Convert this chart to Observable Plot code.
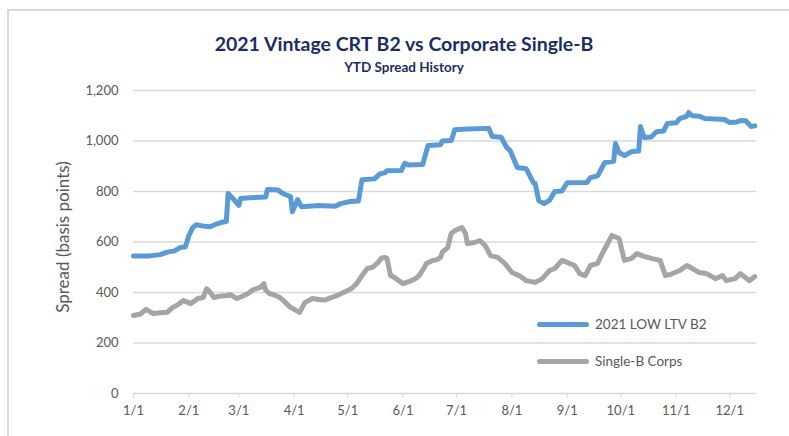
<!DOCTYPE html>
<html>
<head>
<meta charset="utf-8">
<script src="https://cdn.jsdelivr.net/npm/d3@7"></script>
<script src="https://cdn.jsdelivr.net/npm/@observablehq/plot@0.6"></script>
<style>
  body { margin: 0; background: #fff; font-family: Lato, "Open Sans", sans-serif; }
  #wrap { position: relative; width: 789px; height: 436px; overflow: hidden; }
  #frame { position: absolute; left: 7px; top: 9px; width: 820px; height: 460px; border: 2px solid #d9d9d9; box-sizing: border-box; }
  #chart { position: absolute; left: 0; top: 0; }
  #title { position: absolute; left: 0; width: 808px; top: 32px; text-align: center; font-weight: bold; font-size: 19.5px; color: #1B2E63; line-height: 24px; }
  #subtitle { position: absolute; left: 0; width: 808px; top: 59px; text-align: center; font-weight: bold; font-size: 13.5px; color: #1B2E63; line-height: 16px; }
  #ylabel { position: absolute; left: 62px; top: 237px; transform: translate(-50%, -50%) rotate(-90deg); white-space: nowrap; font-size: 17px; color: #595959; }
  .leg { position: absolute; left: 537px; height: 18px; display: flex; align-items: center; font-size: 13.5px; color: #595959; white-space: nowrap; }
  .leg span.bar { display: inline-block; width: 52px; height: 5px; border-radius: 3px; margin-right: 6px; }
</style>
</head>
<body>
<div id="wrap">
  <div id="frame"></div>
  <div id="chart"></div>
  <div id="title"></div>
  <div id="subtitle"></div>
  <div id="ylabel"></div>
  <div id="legend"></div>
</div>
<script>
// ---- Data ----
const titleText = "2021 Vintage CRT B2 vs Corporate Single-B";
const subtitleText = "YTD Spread History";
const yAxisLabel = "Spread (basis points)";
const seriesNames = ["2021 LOW LTV B2", "Single-B Corps"];
const yTicks = [0, 200, 400, 600, 800, 1000, 1200];
const xTickLabels = ["1/1","2/1","3/1","4/1","5/1","6/1","7/1","8/1","9/1","10/1","11/1","12/1"];
const xDomain = ["2021-01-01", "2021-12-16"];

const b2Dates = ["2021-01-01","2021-01-10","2021-01-16","2021-01-20","2021-01-24","2021-01-27","2021-01-30","2021-02-01","2021-02-03","2021-02-05","2021-02-10","2021-02-13","2021-02-16","2021-02-19","2021-02-21","2021-02-22","2021-02-23","2021-02-26","2021-03-01","2021-03-02","2021-03-07","2021-03-16","2021-03-17","2021-03-23","2021-03-25","2021-03-27","2021-03-30","2021-03-31","2021-04-03","2021-04-05","2021-04-15","2021-04-24","2021-04-27","2021-05-02","2021-05-07","2021-05-09","2021-05-16","2021-05-19","2021-05-22","2021-05-23","2021-05-31","2021-06-02","2021-06-04","2021-06-12","2021-06-15","2021-06-22","2021-06-23","2021-06-28","2021-06-30","2021-07-07","2021-07-19","2021-07-21","2021-07-26","2021-07-29","2021-07-31","2021-08-04","2021-08-09","2021-08-13","2021-08-14","2021-08-16","2021-08-19","2021-08-22","2021-08-25","2021-08-29","2021-09-01","2021-09-12","2021-09-14","2021-09-18","2021-09-19","2021-09-22","2021-09-27","2021-09-28","2021-09-30","2021-10-03","2021-10-07","2021-10-11","2021-10-12","2021-10-14","2021-10-18","2021-10-21","2021-10-25","2021-10-27","2021-11-01","2021-11-03","2021-11-07","2021-11-08","2021-11-10","2021-11-14","2021-11-17","2021-11-28","2021-12-01","2021-12-05","2021-12-07","2021-12-10","2021-12-13","2021-12-15"];
const b2Values = [545,545,550,560,565,578,580,625,655,668,662,660,670,677,680,682,792,770,745,772,775,778,808,806,795,788,780,720,768,740,745,742,752,760,762,847,850,870,875,882,883,912,905,907,982,985,1000,1002,1045,1048,1050,1018,1015,975,962,895,890,835,832,764,752,765,800,802,835,836,855,862,875,915,920,990,955,942,958,960,1057,1014,1016,1037,1040,1069,1072,1089,1098,1113,1100,1098,1089,1085,1073,1075,1081,1080,1057,1060];

const corpDates = ["2021-01-01","2021-01-05","2021-01-08","2021-01-10","2021-01-12","2021-01-16","2021-01-20","2021-01-23","2021-01-26","2021-01-29","2021-02-02","2021-02-06","2021-02-09","2021-02-11","2021-02-13","2021-02-15","2021-02-18","2021-02-23","2021-02-24","2021-02-28","2021-03-03","2021-03-06","2021-03-09","2021-03-13","2021-03-15","2021-03-16","2021-03-18","2021-03-21","2021-03-24","2021-03-26","2021-03-30","2021-04-01","2021-04-04","2021-04-07","2021-04-10","2021-04-11","2021-04-15","2021-04-18","2021-04-21","2021-04-25","2021-04-28","2021-05-01","2021-05-03","2021-05-06","2021-05-09","2021-05-12","2021-05-15","2021-05-18","2021-05-20","2021-05-22","2021-05-23","2021-05-25","2021-05-27","2021-05-30","2021-06-01","2021-06-05","2021-06-08","2021-06-10","2021-06-13","2021-06-14","2021-06-17","2021-06-20","2021-06-22","2021-06-23","2021-06-26","2021-06-28","2021-06-30","2021-07-04","2021-07-06","2021-07-07","2021-07-11","2021-07-14","2021-07-17","2021-07-20","2021-07-24","2021-07-28","2021-08-01","2021-08-05","2021-08-09","2021-08-14","2021-08-18","2021-08-22","2021-08-25","2021-08-29","2021-09-01","2021-09-05","2021-09-08","2021-09-11","2021-09-14","2021-09-18","2021-09-20","2021-09-23","2021-09-26","2021-09-30","2021-10-03","2021-10-07","2021-10-10","2021-10-14","2021-10-18","2021-10-23","2021-10-26","2021-10-30","2021-11-03","2021-11-07","2021-11-10","2021-11-14","2021-11-18","2021-11-23","2021-11-27","2021-11-29","2021-12-04","2021-12-07","2021-12-09","2021-12-12","2021-12-15"];
const corpValues = [309,315,333,325,317,320,322,341,352,368,356,376,380,415,400,380,385,388,392,376,385,395,411,420,435,410,396,390,380,368,341,333,321,360,372,376,372,370,378,388,398,408,415,435,467,495,500,519,537,539,535,467,460,445,435,445,455,467,500,515,525,530,539,560,578,634,645,657,634,594,598,606,586,546,539,515,479,467,447,440,455,487,495,527,519,507,475,467,507,515,546,586,626,614,527,535,554,543,535,527,467,475,487,507,495,479,475,455,467,447,455,475,463,447,463];

// ---- Build ----
const parse = s => new Date(s + "T00:00:00Z");
const b2 = b2Dates.map((d, i) => ({date: parse(d), value: b2Values[i]}));
const corp = corpDates.map((d, i) => ({date: parse(d), value: corpValues[i]}));
const xTicks = xTickLabels.map(s => { const [m, d] = s.split("/").map(Number); return new Date(Date.UTC(2021, m - 1, d)); });
const fmtX = d3.utcFormat("%-m/%-d");

const chart = Plot.plot({
  width: 789,
  height: 436,
  marginLeft: 133,
  marginRight: 33,
  marginTop: 90,
  marginBottom: 43,
  style: {fontFamily: "Lato, 'Open Sans', sans-serif", fontSize: "13px", background: "transparent"},
  x: {type: "utc", domain: xDomain.map(parse)},
  y: {domain: [0, 1200]},
  marks: [
    Plot.gridY(yTicks.filter(v => v > 0), {stroke: "#d9d9d9", strokeOpacity: 1, strokeWidth: 1.3}),
    Plot.ruleY([0], {stroke: "#d9d9d9", strokeWidth: 1.3}),
    Plot.axisY(yTicks, {tickSize: 0, tickPadding: 15, tickFormat: d3.format(","), color: "#595959", label: null, fontSize: 13}),
    Plot.axisX(xTicks, {tickSize: 5, tickPadding: 7, tickFormat: fmtX, color: "#595959", stroke: "#d9d9d9", label: null, fontSize: 13}),
    Plot.line(corp, {x: "date", y: "value", stroke: "#A5A5A5", strokeWidth: 5, strokeLinejoin: "round", strokeLinecap: "round"}),
    Plot.line(b2, {x: "date", y: "value", stroke: "#5B9BD5", strokeWidth: 5, strokeLinejoin: "round", strokeLinecap: "round"})
  ]
});
document.getElementById("chart").appendChild(chart);
document.getElementById("title").textContent = titleText;
document.getElementById("subtitle").textContent = subtitleText;
document.getElementById("ylabel").textContent = yAxisLabel;

const legendColors = ["#5B9BD5", "#A5A5A5"];
const legendTops = [315, 352];
const legend = document.getElementById("legend");
seriesNames.forEach((name, i) => {
  const row = document.createElement("div");
  row.className = "leg";
  row.style.top = legendTops[i] + "px";
  const bar = document.createElement("span");
  bar.className = "bar";
  bar.style.background = legendColors[i];
  row.appendChild(bar);
  row.appendChild(document.createTextNode(name));
  legend.appendChild(row);
});
</script>
</body>
</html>
